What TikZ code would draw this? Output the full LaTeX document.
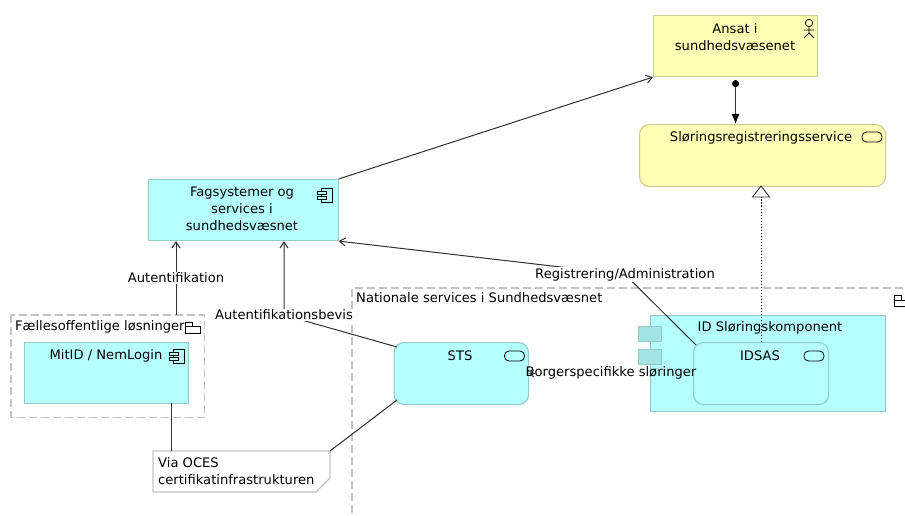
\documentclass[tikz,border=0pt]{standalone}
\usepackage{fontspec}
\setmainfont{DejaVu Sans}
\usetikzlibrary{arrows.meta,calc}
\definecolor{ycol}{HTML}{FFFFB5}
\definecolor{yline}{HTML}{CCCC91}
\definecolor{ccol}{HTML}{B5FFFF}
\definecolor{cline}{HTML}{91CCCC}
\definecolor{cdark}{HTML}{A3E5E5}
\definecolor{grp}{HTML}{C4C4C4}
\definecolor{conn}{HTML}{303030}
\tikzset{
  x=1pt,y=-1pt,
  every node/.style={font=\fontsize{13.1}{17}\selectfont,inner sep=0pt,text=black},
  boxbase/.style={anchor=north west,draw,line width=1.1pt,align=center},
  ybox/.style={boxbase,fill=ycol,draw=yline},
  cbox/.style={boxbase,fill=ccol,draw=cline},
  round/.style={rounded corners=10pt},
  lbl/.style={fill=white,inner xsep=0pt,inner ysep=1pt},
  conline/.style={draw=conn,line width=1pt},
  openarr/.style={conline,-{Straight Barb[length=6pt,width=8pt]}},
  icon/.style={draw=black,line width=0.8pt,fill=none},
  grpline/.style={draw=grp,line width=1.1pt,dash pattern=on 8pt off 4pt},
}
\begin{document}
\begin{tikzpicture}
\useasboundingbox (0,0) rectangle (905,516);
% groups
\node[anchor=north west,draw=none,minimum width=193pt,minimum height=102pt] (fg) at (11,315) {};
\draw[grpline] (fg.north west) rectangle (fg.south east);
\node[anchor=west] (fgl) at (15,326.5) {Fællesoffentlige løsninger};
\draw[icon] (185,326) -- (185,322.5) -- (192,322.5) -- (192,326) (185,326) rectangle (200,333);
\coordinate (na) at (352,513);
\coordinate (nb) at (352,288);
\coordinate (nc) at (905,288);
\draw[grpline] (na) -- (nb) -- (nc);
\node[anchor=west] (nl) at (356,298) {Nationale services i Sundhedsvæsnet};
\draw[icon] (905,306) -- (894,306) -- (894,295) -- (901,295) -- (901,300) (894,300) -- (905,300);
% boxes
\node[ybox,minimum width=164pt,minimum height=61pt] (ansat) at (653,15) {};
\node[align=center] (ansatt) at (735,37) {Ansat i\\sundhedsvæsenet};
\node[ybox,round,minimum width=246pt,minimum height=62pt] (slor) at (639,124) {};
\node (slort) at (761,138) {Sløringsregistreringsservice};
\node[cbox,minimum width=190pt,minimum height=61pt] (fag) at (147.5,179) {};
\node[align=center] (fagt) at (242,209) {Fagsystemer og\\services i\\sundhedsvæsnet};
\node[cbox,minimum width=164pt,minimum height=61pt] (mit) at (24,342) {};
\node (mitt) at (106,356) {MitID / NemLogin};
\node[cbox,round,minimum width=134.5pt,minimum height=62pt] (sts) at (393.5,342) {};
\node (stst) at (460,356) {STS};
% id component
\node[cbox,minimum width=235pt,minimum height=96pt] (idk) at (650,315) {};
\node[boxbase,fill=cdark,draw=cline,minimum width=23pt,minimum height=15pt] (p1) at (638,326) {};
\node[boxbase,fill=cdark,draw=cline,minimum width=23pt,minimum height=15pt] (p2) at (638,349) {};
\node (idkt) at (770,328) {ID Sløringskomponent};
\node[cbox,round,minimum width=135pt,minimum height=62pt] (ids) at (693,342) {};
\node (idst) at (760,356) {IDSAS};
% note
\coordinate (n1) at (153,451); \coordinate (n2) at (330,451);
\coordinate (n3) at (330,478); \coordinate (n4) at (316,492); \coordinate (n5) at (153,492);
\draw[draw=grp,line width=1.1pt,fill=white] (n1) -- (n2) -- (n3) -- (n4) -- (n5) -- cycle;
\node[anchor=west,align=left] (note) at (158,471.5) {Via OCES\\certifikatinfrastrukturen};
% icons
\draw[icon] (809,23) circle (3.7pt);
\draw[icon] (809,27) -- (809,33) (804,30) -- (814,30) (804,38) -- (809,33) -- (814,38);
\foreach \xx/\yy in {317.5/188,169/349}{
  \draw[icon] ({\xx+4},\yy) rectangle ({\xx+15},{\yy+14});
  \draw[icon,fill=ccol] (\xx,{\yy+3}) rectangle ({\xx+9},{\yy+6});
  \draw[icon,fill=ccol] (\xx,{\yy+8}) rectangle ({\xx+9},{\yy+11});
}
\foreach \xx/\yy in {872/137,514.5/356,814/356}{
  \draw[icon,rounded corners=4.5pt] ({\xx-10},{\yy-5}) rectangle ({\xx+10},{\yy+5});
}
% connectors
\draw[conline,{Circle[length=7pt,color=black]}-{Latex[length=10pt,width=8pt,color=black]}] ($(ansat.south)+(0,3)$) -- (slor.north -| ansat.south);
\draw[openarr] (fag.north east) -- (ansat.south west);
\coordinate (rea) at (761,197);
\draw[draw=black,line width=1pt,dash pattern=on 1.5pt off 1.5pt] (ids.north -| rea) -- (rea);
\draw[draw=conn,line width=0.9pt,fill=white] (761,186) -- (769.5,197) -- (752.5,197) -- cycle;
\coordinate (regend) at (696,345);
\coordinate (bev) at (397,347);
\coordinate (autb) at (176,315);
\node[lbl,draw=none] (regl) at (625,274.5) {\phantom{Registrering/Administration}};
\node[lbl,draw=none] (bevl) at (284,315) {\phantom{Autentifikationsbevis}};
\draw[openarr,rounded corners=0pt] (regend) -- (regl.center) -- (fag.south east);
\draw[openarr] (autb) -- (autb |- fag.south);
\draw[openarr] (bev) -- (bevl.center) -- (bevl.center |- fag.south);
\node[lbl] (reglt) at (regl) {Registrering/Administration};
\node[lbl] (autl) at (176,278) {Autentifikation};
\node[lbl] (bevlt) at (bevl) {Autentifikationsbevis};
\draw[conline] (171,403) -- (171,451);
\draw[conline] (n2) -- (397,400);
\node[inner sep=0pt] (bor) at (611,373) {Borgerspecifikke sløringer};
\draw[conline,-{Straight Barb[length=4pt,width=7pt]}] ($(sts.east)+(6,0)$) -- (sts.east);
\end{tikzpicture}
\end{document}
